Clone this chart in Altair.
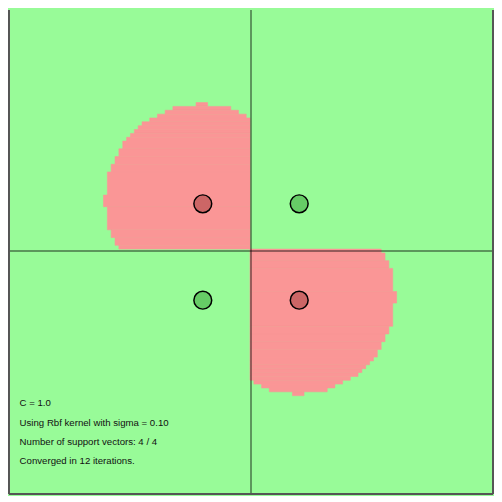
import altair as alt
import pandas as pd

# Layout: reference is drawn on a 502px canvas, we fit it into 486px
CANVAS = 502
SIZE = 486
s = SIZE / CANVAS

# Decision region of the red class, one run of cells per row (canvas px)
ul_y0 = [96, 100, 104, 108, 112, 116, 120, 124, 128, 132, 136, 144, 152, 160, 168, 192, 204, 228, 236, 244]
ul_y1 = [100, 104, 108, 112, 116, 120, 124, 128, 132, 136, 144, 152, 160, 168, 192, 204, 228, 236, 244, 248]
ul_x0 = [194, 170, 162, 154, 146, 138, 134, 130, 126, 122, 118, 114, 110, 106, 102, 98, 102, 106, 110, 114]
ul_x1 = [206, 230, 238, 246, 250, 250, 250, 250, 250, 250, 250, 250, 250, 250, 250, 250, 250, 250, 250, 250]

lr_y0 = [248, 252, 260, 268, 292, 304, 328, 336, 344, 352, 360, 364, 368, 372, 376, 380, 384, 388, 392, 396]
lr_y1 = [252, 260, 268, 292, 304, 328, 336, 344, 352, 360, 364, 368, 372, 376, 380, 384, 388, 392, 396, 400]
lr_x0 = [250, 250, 250, 250, 250, 250, 250, 250, 250, 250, 250, 250, 250, 250, 250, 250, 254, 262, 270, 294]
lr_x1 = [386, 390, 394, 398, 402, 398, 394, 390, 386, 382, 378, 374, 370, 366, 362, 354, 346, 338, 330, 306]

# Training points
pt_x = [201, 301, 201, 301]
pt_y = [201, 201, 301, 301]
pt_label = ['red', 'green', 'green', 'red']

# Axis lines and the frame (left, right, bottom)
axis_x = [251]
axis_y = [250]
frame_x = [0, 502]
frame_y = [502]

info_lines = [
    'C = 1.0',
    'Using Rbf kernel with sigma = 0.10',
    'Number of support vectors: 4 / 4',
    'Converged in 12 iterations.',
]

regions = pd.concat([
    pd.DataFrame({'y0': ul_y0, 'y1': ul_y1, 'x0': ul_x0, 'x1': ul_x1}),
    pd.DataFrame({'y0': lr_y0, 'y1': lr_y1, 'x0': lr_x0, 'x1': lr_x1}),
])
points = pd.DataFrame({'x': pt_x, 'y': pt_y, 'label': pt_label})

xs = alt.Scale(domain=[0, CANVAS], nice=False, zero=False)
ys = alt.Scale(domain=[0, CANVAS], nice=False, zero=False, reverse=True)

region_layer = alt.Chart(regions).mark_rect(
    color='#fa9696', stroke='#fa9696', strokeWidth=0.6
).encode(
    x=alt.X('x0:Q', scale=xs, axis=None),
    x2='x1:Q',
    y=alt.Y('y0:Q', scale=ys, axis=None),
    y2='y1:Q',
)

vline = alt.Chart(pd.DataFrame({'x': axis_x})).mark_rule(
    color='black', opacity=0.4, strokeWidth=2
).encode(x=alt.X('x:Q', scale=xs, axis=None))

hline = alt.Chart(pd.DataFrame({'y': axis_y})).mark_rule(
    color='black', opacity=0.4, strokeWidth=2
).encode(y=alt.Y('y:Q', scale=ys, axis=None))

frame_v = alt.Chart(pd.DataFrame({'x': frame_x})).mark_rule(
    color='#555555', strokeWidth=2
).encode(x=alt.X('x:Q', scale=xs, axis=None))

frame_h = alt.Chart(pd.DataFrame({'y': frame_y})).mark_rule(
    color='#555555', strokeWidth=2
).encode(y=alt.Y('y:Q', scale=ys, axis=None))

point_layer = alt.Chart(points).mark_point(
    shape='circle', filled=True, opacity=1, stroke='black', strokeWidth=1.5,
    size=(18.5 * s) ** 2
).encode(
    x=alt.X('x:Q', scale=xs, axis=None),
    y=alt.Y('y:Q', scale=ys, axis=None),
    fill=alt.Fill('label:N', scale=alt.Scale(domain=['red', 'green'],
                                             range=['#cc6666', '#66cc66']),
                  legend=None),
)

text_layer = alt.Chart(pd.DataFrame({'k': [0]})).mark_text(
    align='left', baseline='alphabetic', font='Liberation Sans',
    fontSize=10 * s, lineHeight=20 * s, color='#111111'
).encode(
    x=alt.value(11 * s),
    y=alt.value(411 * s),
    text=alt.value(info_lines),
)

chart = alt.layer(
    region_layer, vline, hline, frame_v, frame_h, point_layer, text_layer
).properties(
    width=SIZE,
    height=SIZE,
    padding=0,
    background='#98fb98',
).configure_view(
    fill='#98fb98',
    strokeWidth=0,
)

chart.save("out.html", embed_options={"renderer": "svg", "actions": False})
